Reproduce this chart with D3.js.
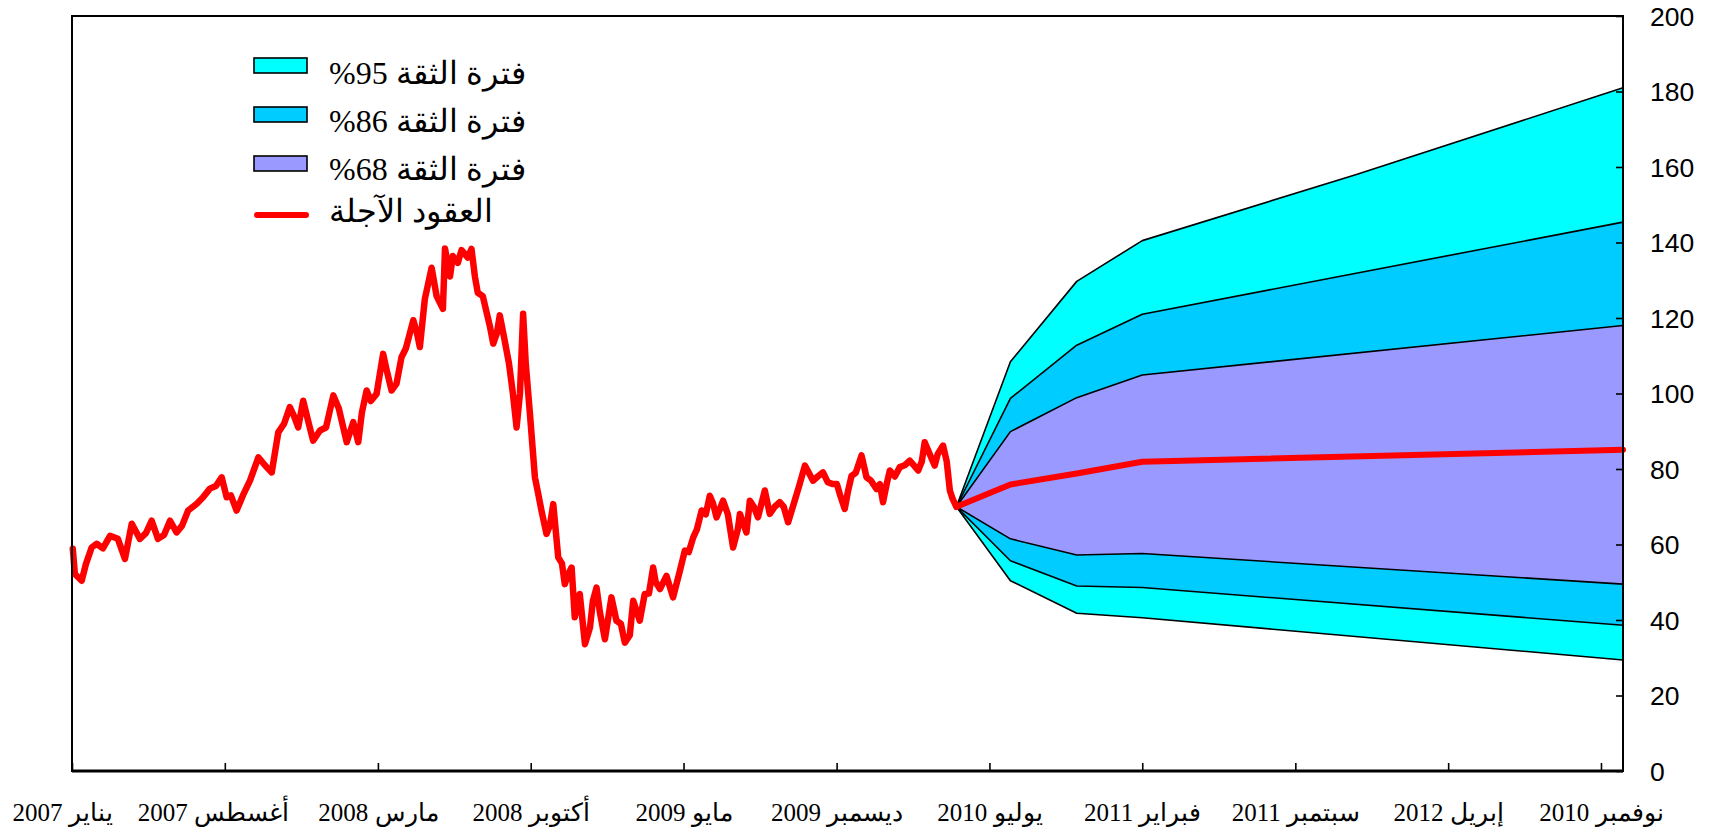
<!DOCTYPE html>
<html><head><meta charset="utf-8">
<script src="https://cdn.jsdelivr.net/npm/d3@7"></script>
<style>body{margin:0;background:#fff}svg{display:block}</style>
</head><body>
<svg id="c" width="1715" height="835"></svg>
<script>
// ---- data (decimal years) ----
const histYears = [2007.003,2007.011,2007.037,2007.053,2007.075,2007.094,2007.118,2007.145,2007.175,2007.202,2007.228,2007.259,2007.282,2007.304,2007.328,2007.351,2007.374,2007.399,2007.420,2007.443,2007.476,2007.500,2007.526,2007.549,2007.571,2007.590,2007.606,2007.628,2007.652,2007.679,2007.711,2007.736,2007.762,2007.787,2007.809,2007.831,2007.847,2007.863,2007.882,2007.900,2007.920,2007.946,2007.969,2007.997,2008.018,2008.048,2008.073,2008.092,2008.106,2008.124,2008.140,2008.162,2008.187,2008.201,2008.219,2008.238,2008.257,2008.274,2008.302,2008.316,2008.327,2008.346,2008.372,2008.391,2008.415,2008.423,2008.442,2008.453,2008.472,2008.486,2008.510,2008.524,2008.537,2008.548,2008.567,2008.582,2008.594,2008.607,2008.621,2008.632,2008.648,2008.667,2008.682,2008.696,2008.709,2008.721,2008.731,2008.747,2008.766,2008.777,2008.791,2008.810,2008.823,2008.836,2008.855,2008.869,2008.880,2008.892,2008.906,2008.918,2008.937,2008.957,2008.976,2008.987,2009.001,2009.014,2009.033,2009.058,2009.077,2009.094,2009.109,2009.128,2009.141,2009.166,2009.185,2009.201,2009.217,2009.227,2009.243,2009.268,2009.293,2009.319,2009.338,2009.353,2009.370,2009.384,2009.402,2009.418,2009.433,2009.445,2009.459,2009.484,2009.502,2009.522,2009.540,2009.548,2009.573,2009.586,2009.601,2009.617,2009.643,2009.662,2009.681,2009.700,2009.715,2009.732,2009.757,2009.776,2009.796,2009.811,2009.827,2009.845,2009.865,2009.883,2009.903,2009.918,2009.929,2009.948,2009.960,2009.974,2009.990,2010.012,2010.031,2010.047,2010.069,2010.082,2010.094,2010.108,2010.120,2010.139,2010.158,2010.177,2010.196,2010.211,2010.228,2010.242,2010.253,2010.272,2010.291,2010.303,2010.323,2010.337,2010.349,2010.360,2010.374];
const histValues = [58.9,52.2,50.4,54.8,59.2,60.2,59.0,62.3,61.5,56.2,65.5,61.5,63.0,66.3,61.5,62.5,66.3,63.2,65.0,69.0,70.8,72.5,74.8,75.5,77.8,72.5,73.0,69.0,73.0,76.9,83.1,81.0,79.1,89.7,92.0,96.4,94.0,91.0,98.1,93.0,87.5,90.2,91.0,99.5,96.0,87.1,92.4,87.1,95.0,100.8,98.0,99.9,110.5,106.0,100.8,102.6,109.6,112.0,119.4,116.0,112.3,125.0,133.3,125.8,122.4,138.4,131.0,136.4,134.6,138.0,136.0,138.3,131.0,126.7,125.8,121.4,117.9,113.2,116.0,120.7,115.0,108.0,100.0,91.0,100.0,121.1,108.0,94.6,77.8,74.0,69.0,62.8,65.0,70.7,56.6,55.0,49.5,52.0,53.9,40.7,46.9,33.6,38.0,45.0,48.6,42.0,34.9,46.0,39.8,39.0,34.0,36.0,45.1,39.8,46.9,47.0,53.9,50.0,48.2,51.7,46.0,53.0,58.4,58.0,61.9,64.0,69.0,68.0,72.9,71.0,67.2,71.6,68.0,59.2,64.0,68.1,63.2,71.6,70.0,67.2,74.3,68.1,70.0,71.2,70.0,65.9,71.6,76.0,80.9,79.0,76.9,78.0,79.1,76.5,76.0,76.0,73.4,69.4,74.0,78.2,79.0,83.6,77.8,77.0,74.7,76.0,71.2,76.0,79.6,78.0,80.5,81.0,82.2,81.0,79.6,82.0,87.1,84.0,80.9,84.0,86.2,82.0,74.3,72.0,70.0];

const fcYears      = [2010.374, 2010.58, 2010.833, 2011.083, 2012.917];
const upper95Years = [2010.374, 2010.58, 2010.833, 2011.083, 2011.9, 2012.917];
const upper95 = [70, 108.4, 129.7, 140.5, 158.0, 181.0];
const upper86 = [70, 98.7, 112.8, 121.0, 145.4];
const upper68 = [70, 89.9, 98.9, 104.9, 118.0];
const futures = [70, 75.9, 78.8, 81.9, 85.1];
const lower68 = [70, 61.5, 57.2, 57.6, 49.5];
const lower86 = [70, 55.7, 49.0, 48.6, 38.6];
const lower95 = [70, 50.4, 41.8, 40.6, 29.4];

const xTickYears = [2007, 2007.583, 2008.167, 2008.75, 2009.333, 2009.917, 2010.5, 2011.083, 2011.667, 2012.25, 2012.833];
const xTickLabels = ["يناير 2007","أغسطس 2007","مارس 2008","أكتوبر 2008","مايو 2009","ديسمبر 2009","يوليو 2010","فبراير 2011","سبتمبر 2011","إبريل 2012","نوفمبر 2010"];
const yTicks = [0,20,40,60,80,100,120,140,160,180,200];

const legendLabels = ["فترة الثقة 95%","فترة الثقة 86%","فترة الثقة 68%","العقود الآجلة"];
const legendColors = ["#00FFFF","#00CCFF","#9999FF","#FF0000"];

// ---- layout ----
const L = 72, R = 1623, T = 16, B = 771;
const svg = d3.select("#c");
const x = d3.scaleLinear().domain([2007, 2012.917]).range([L, R]);
const y = d3.scaleLinear().domain([0, 200]).range([B, T]);

const pts = (xs, vs) => xs.map((t, i) => [x(t), y(vs[i])]);
const line = d3.line();
const poly = (upXs, up, loXs, lo) => pts(upXs, up).concat(pts(loXs, lo).reverse());

const g = svg.append("g");
// bands
g.append("path").attr("d", line(poly(upper95Years, upper95, fcYears, lower95)) + "Z").attr("fill", "#00FFFF");
g.append("path").attr("d", line(poly(fcYears, upper86, fcYears, lower86)) + "Z").attr("fill", "#00CCFF");
g.append("path").attr("d", line(poly(fcYears, upper68, fcYears, lower68)) + "Z").attr("fill", "#9999FF");
// band edges
[[upper95Years, upper95],[fcYears, upper86],[fcYears, upper68],[fcYears, lower68],[fcYears, lower86],[fcYears, lower95]].forEach(([xs, vs]) => {
  g.append("path").attr("d", line(pts(xs, vs))).attr("fill", "none").attr("stroke", "#000").attr("stroke-width", 1.6).attr("stroke-linejoin", "round");
});
// futures
g.append("path").attr("d", line(pts(fcYears, futures))).attr("fill", "none").attr("stroke", "#FF0000").attr("stroke-width", 6).attr("stroke-linejoin", "round").attr("stroke-linecap", "round");
// history
g.append("path").attr("d", line(pts(histYears, histValues))).attr("fill", "none").attr("stroke", "#FF0000").attr("stroke-width", 6.5).attr("stroke-linejoin", "round").attr("stroke-linecap", "round");

// frame
svg.append("rect").attr("x", L).attr("y", T).attr("width", R - L).attr("height", B - T).attr("fill", "none").attr("stroke", "#000").attr("stroke-width", 2);
svg.append("line").attr("x1", L).attr("x2", R).attr("y1", B).attr("y2", B).attr("stroke", "#000").attr("stroke-width", 3);

// y axis (right, ticks inward)
const ya = svg.append("g").attr("transform", `translate(${R},0)`)
  .call(d3.axisLeft(y).tickValues(yTicks).tickSize(7).tickFormat(d3.format("d")));
ya.select(".domain").remove();
ya.selectAll("line").attr("stroke", "#000").attr("stroke-width", 1.6);
ya.selectAll("text").attr("x", 27).attr("text-anchor", "start").attr("dy", "0.35em")
  .style("font-family", "'Liberation Sans', Arial, sans-serif").style("font-size", "26.5px").attr("fill", "#000");

// x axis (bottom, ticks inward)
const xa = svg.append("g").attr("transform", `translate(0,${B})`)
  .call(d3.axisTop(x).tickValues(xTickYears).tickSize(8).tickFormat((d, i) => xTickLabels[i]));
xa.select(".domain").remove();
xa.selectAll("line").attr("stroke", "#000").attr("stroke-width", 1.6);
xa.selectAll("text").attr("y", 50).attr("dy", 0).attr("text-anchor", "middle").attr("direction", "rtl")
  .attr("dx", (d, i) => i === 0 ? -10 : (i === 1 ? -12 : 0))
  .style("font-family", "'Liberation Serif', 'Times New Roman', serif").style("font-size", "25px").attr("fill", "#000");

// legend
const lg = svg.append("g");
const rowY = [65.5, 114.5, 163.5, 215];
legendLabels.forEach((lab, i) => {
  if (i < 3) {
    lg.append("rect").attr("x", 254).attr("y", rowY[i] - 7.5).attr("width", 53).attr("height", 15)
      .attr("fill", legendColors[i]).attr("stroke", "#000").attr("stroke-width", 1.6);
  } else {
    lg.append("line").attr("x1", 257).attr("x2", 306).attr("y1", rowY[i]).attr("y2", rowY[i])
      .attr("stroke", legendColors[i]).attr("stroke-width", 6).attr("stroke-linecap", "round");
  }
  lg.append("text").attr("x", 329).attr("y", [84, 132, 180, 222][i]).attr("direction", "rtl").attr("text-anchor", "end")
    .style("font-family", "'Liberation Serif', 'Times New Roman', serif").style("font-size", "32px").attr("fill", "#000")
    .text(lab);
});
</script>
</body></html>
